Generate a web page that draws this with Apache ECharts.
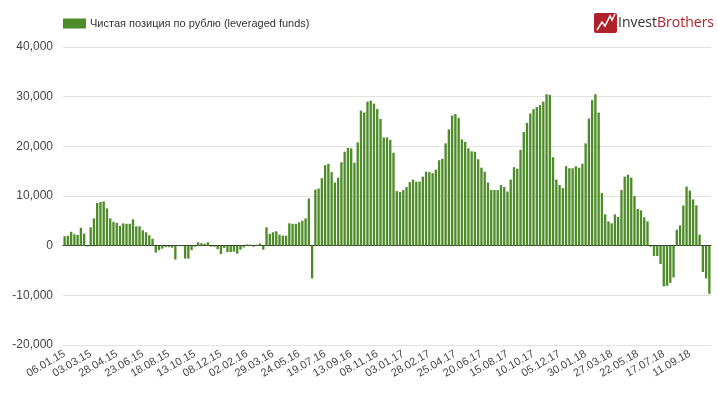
<!DOCTYPE html>
<html><head><meta charset="utf-8">
<script src="https://cdn.jsdelivr.net/npm/echarts@6/dist/echarts.min.js"></script>
<style>html,body{margin:0;padding:0;background:#fff}#c{width:718px;height:393px}</style>
</head><body><div id="c"></div>
<script>
const seriesName = 'Чистая позиция по рублю (leveraged funds)';
const dates = [
'06.01.15','13.01.15','20.01.15','27.01.15','03.02.15','10.02.15','17.02.15','24.02.15','03.03.15','10.03.15','17.03.15','24.03.15','31.03.15','07.04.15','14.04.15','21.04.15','28.04.15','05.05.15','12.05.15','19.05.15','26.05.15','02.06.15','09.06.15','16.06.15','23.06.15','30.06.15','07.07.15','14.07.15','21.07.15','28.07.15','04.08.15','11.08.15','18.08.15','25.08.15','01.09.15','08.09.15','15.09.15','22.09.15','29.09.15','06.10.15','13.10.15','20.10.15','27.10.15','03.11.15','10.11.15','17.11.15','24.11.15','01.12.15','08.12.15','15.12.15','22.12.15','29.12.15',
'05.01.16','12.01.16','19.01.16','26.01.16','02.02.16','09.02.16','16.02.16','23.02.16','01.03.16','08.03.16','15.03.16','22.03.16','29.03.16','05.04.16','12.04.16','19.04.16','26.04.16','03.05.16','10.05.16','17.05.16','24.05.16','31.05.16','07.06.16','14.06.16','21.06.16','28.06.16','05.07.16','12.07.16','19.07.16','26.07.16','02.08.16','09.08.16','16.08.16','23.08.16','30.08.16','06.09.16','13.09.16','20.09.16','27.09.16','04.10.16','11.10.16','18.10.16','25.10.16','01.11.16','08.11.16','15.11.16','22.11.16','29.11.16','06.12.16','13.12.16','20.12.16','27.12.16',
'03.01.17','10.01.17','17.01.17','24.01.17','31.01.17','07.02.17','14.02.17','21.02.17','28.02.17','07.03.17','14.03.17','21.03.17','28.03.17','04.04.17','11.04.17','18.04.17','25.04.17','02.05.17','09.05.17','16.05.17','23.05.17','30.05.17','06.06.17','13.06.17','20.06.17','27.06.17','04.07.17','11.07.17','18.07.17','25.07.17','01.08.17','08.08.17','15.08.17','22.08.17','29.08.17','05.09.17','12.09.17','19.09.17','26.09.17','03.10.17','10.10.17','17.10.17','24.10.17','31.10.17','07.11.17','14.11.17','21.11.17','28.11.17','05.12.17','12.12.17','19.12.17','26.12.17',
'02.01.18','09.01.18','16.01.18','23.01.18','30.01.18','06.02.18','13.02.18','20.02.18','27.02.18','06.03.18','13.03.18','20.03.18','27.03.18','03.04.18','10.04.18','17.04.18','24.04.18','01.05.18','08.05.18','15.05.18','22.05.18','29.05.18','05.06.18','12.06.18','19.06.18','26.06.18','03.07.18','10.07.18','17.07.18','24.07.18','31.07.18','07.08.18','14.08.18','21.08.18','28.08.18','04.09.18','11.09.18','18.09.18','25.09.18','02.10.18','09.10.18','16.10.18','23.10.18'
];
const values2015 = [1900,2000,2800,2300,2150,3600,2450,-150,3700,5500,8600,8800,8900,7500,5500,4800,4600,4000,4500,4400,4400,5300,3900,3900,3100,2700,2100,1400,-1400,-900,-600,-300,-300,-400,-2800,-100,-100,-2600,-2600,-900,-200,700,500,400,700,-200,-200,-700,-1700,-450,-1300,-1300];
const values2016 = [-1200,-1600,-800,-350,250,200,-200,200,450,-800,3700,2400,2700,2900,2200,2000,2000,4500,4400,4400,4700,5000,5500,9500,-6600,11300,11500,13600,16200,16500,14800,12700,13700,16800,18900,19700,19600,16700,20800,27200,26800,29000,29200,28600,27500,25500,21800,21800,21300,18700,11000,10800];
const values2017 = [11200,11800,12800,13300,12900,12900,13900,14900,14800,14600,15300,17200,17500,20600,23400,26200,26500,25700,21400,20900,19600,19000,18900,17400,15700,14900,12700,11200,11200,11200,12200,11800,10900,13300,15800,15500,19300,22900,24700,26600,27500,27900,28300,29000,30500,30400,17800,13300,12200,11600,16000,15600];
const values2018 = [15600,16000,15700,16500,20600,25600,29300,30500,26800,10600,6300,4900,4500,6300,5800,11200,13900,14300,13700,10000,7400,7100,5700,4900,-200,-2100,-2100,-3700,-8200,-8100,-7500,-6400,3200,4100,8100,11900,11100,9300,8100,2200,-5300,-6600,-9700];
const values = values2015.concat(values2016, values2017, values2018);
const yTicks = {min: -20000, max: 40000, step: 10000};

const chart = echarts.init(document.getElementById('c'), null, {renderer: 'canvas'});
chart.setOption({
  animation: false,
  backgroundColor: '#ffffff',
  textStyle: {fontFamily: 'Liberation Sans, Arial, sans-serif'},
  legend: {
    left: 58, top: 13,
    itemWidth: 23, itemHeight: 10, itemGap: 5,
    icon: 'rect',
    textStyle: {fontSize: 11, color: '#333', fontFamily: 'Liberation Sans, Arial, sans-serif', padding: [0,0,0,-1]},
    data: [seriesName]
  },
  grid: {left: 63, right: 7, top: 47, bottom: 48, containLabel: false},
  xAxis: {
    type: 'category',
    data: dates,
    boundaryGap: true,
    axisLine: {show: true, onZero: true, lineStyle: {color: '#333', width: 1}},
    axisTick: {show: false},
    axisLabel: {interval: 7, rotate: 30, fontSize: 11, color: '#444', margin: 8,
      fontFamily: 'Liberation Sans, Arial, sans-serif'},
    splitLine: {show: false}
  },
  yAxis: {
    type: 'value',
    min: yTicks.min, max: yTicks.max, interval: yTicks.step,
    axisLine: {show: false}, axisTick: {show: false},
    axisLabel: {fontSize: 12, color: '#444', margin: 10,
      formatter: v => v.toLocaleString('en-US'),
      fontFamily: 'Liberation Sans, Arial, sans-serif'},
    splitLine: {lineStyle: {color: '#e2e2e2', width: 1}}
  },
  series: [{
    name: seriesName,
    type: 'bar',
    data: values,
    barCategoryGap: '28%',
    itemStyle: {color: '#4e8c2a'}
  }],
  graphic: [
    {type: 'rect', left: 594, top: 13, shape: {width: 23, height: 20, r: 2}, style: {fill: '#b0202a'}},
    {type: 'polyline', shape: {points: [[597,30],[602,22],[605,26],[610,16],[612,20],[615,14]]},
      style: {stroke: '#ffffff', lineWidth: 1.5, fill: null}},
    {type: 'text', left: 618, top: 16, style: {text: 'Invest', font: '14px "Open Sans", sans-serif', fill: '#333333'}},
    {type: 'text', left: 657, top: 16, style: {text: 'Brothers', font: '14px "Open Sans", sans-serif', fill: '#b0202a'}}
  ]
});
</script>
</body></html>
